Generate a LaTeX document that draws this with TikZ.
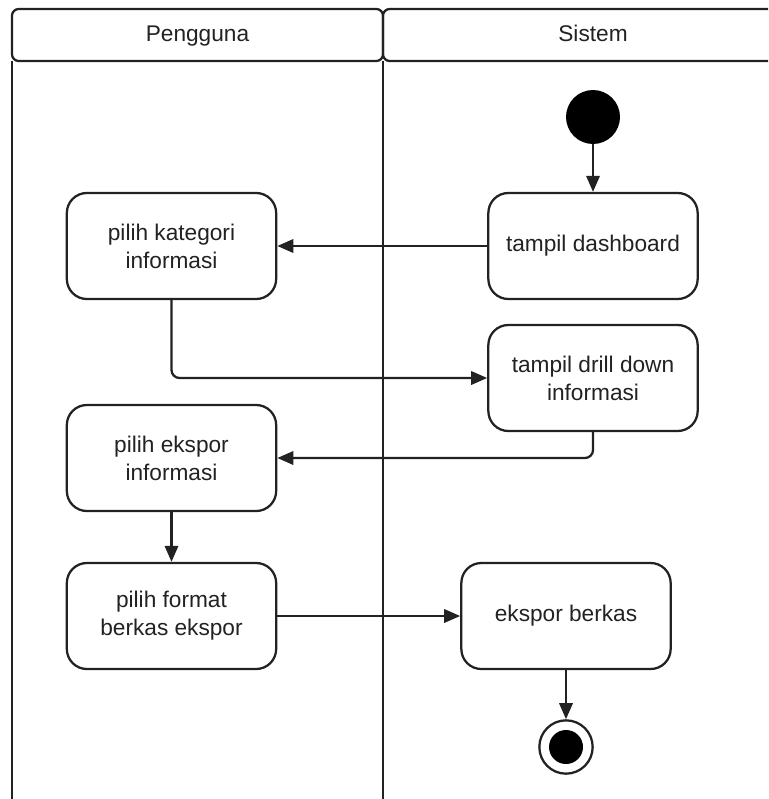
\documentclass[tikz,border=0pt]{standalone}
\usepackage{fontspec}
\setmainfont{Liberation Sans}
\usetikzlibrary{arrows.meta}
\definecolor{ink}{HTML}{222222}
\begin{document}
\begin{tikzpicture}[x=0.75pt,y=-0.75pt,
  line/.style={draw=ink, line width=1.7pt},
  label/.style={font=\fontsize{17}{21}\selectfont, text=ink, align=center},
  activity/.style={line, label, rounded corners=15pt, minimum width=157pt,
    minimum height=79.5pt, inner sep=0pt},
  flow/.style={line, -{Triangle[length=12pt,width=10pt]}},
  startnode/.style={circle, fill=black, minimum size=40.5pt, inner sep=0pt},
  endnode/.style={circle, line, fill=white, minimum size=40pt, inner sep=0pt,
    path picture={\fill[black] (path picture bounding box.center) circle (12.75pt);}},
]
\useasboundingbox (0,0) rectangle (768,799);

% swimlanes (they run past the page edge)
\begin{scope}
  \clip (0,0) rectangle (768,799);
  \draw[line] (12,61) -- (12,830);
  \draw[line] (383,61) -- (383,830);
  \draw[line, rounded corners=5pt] (12,9) rectangle (383,61);
  \draw[line, rounded corners=5pt] (383,9) rectangle (820,61);
\end{scope}
\node[label, anchor=base] (hUser) at (197.5,42) {Pengguna};
\node[label, anchor=base] (hSys) at (593,42) {Sistem};

% activities
\node[startnode] (start) at (593,117) {};
\node[activity] (dash) at (593,246) {tampil dashboard};
\node[activity] (kat) at (171.5,246) {pilih kategori\\informasi};
\node[activity] (drill) at (593,378) {tampil drill down\\informasi};
\node[activity] (eks) at (171.5,458) {pilih ekspor\\informasi};
\node[activity] (fmt) at (171.5,616) {pilih format\\berkas ekspor};
\node[activity] (berkas) at (566,616) {ekspor berkas};
\node[endnode] (end) at (566,747) {};

% control flow
\draw[flow] (start) -- (dash);
\draw[flow] (dash) -- (kat);
\draw[flow, rounded corners=6pt] (kat.south) |- (drill.west);
\draw[flow, rounded corners=6pt] (drill.south) |- (eks.east);
\draw[flow] (eks) -- (fmt);
\draw[flow] (fmt) -- (berkas);
\draw[flow] (berkas) -- (end);
\end{tikzpicture}
\end{document}
